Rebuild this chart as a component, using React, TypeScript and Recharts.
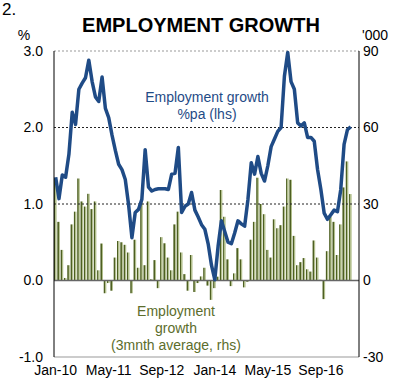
import { ComposedChart, Bar, Line, XAxis, YAxis, ReferenceLine } from 'recharts';

const MONTH_NAMES = ['Jan', 'Feb', 'Mar', 'Apr', 'May', 'Jun', 'Jul', 'Aug', 'Sep', 'Oct', 'Nov', 'Dec'];

// Jan-10 .. Aug-17 (last two months have no data yet)
const months: string[] = [];
for (let y = 10; y <= 17; y++) {
    for (const m of MONTH_NAMES) {
        if (months.length < 92) months.push(`${m}-${y}`);
    }
}

const xTicks = ['Jan-10', 'May-11', 'Sep-12', 'Jan-14', 'May-15', 'Sep-16'];
const leftTicks = [-1, 0, 1, 2, 3];
const rightTicks = [-30, 0, 30, 60, 90];

// employment growth, % per annum (lhs)
const pctGrowth = [
    1.35, 1.07, 1.38, 1.35, 1.65, 2.2, 2.04, 2.5, 2.58, 2.65, 2.88, 2.6, 2.4, 2.34, 2.66, 2.25, 2.13, 1.9, 1.7, 1.52, 1.45,
    1.32, 0.99, 0.56, 0.89, 0.93, 1.06, 1.71, 1.22,
    1.17, 1.19, 1.2, 1.2, 1.2, 1.19, 1.39, 1.4,
    1.74, 0.89, 0.97, 1.0, 1.15, 0.92, 0.83, 0.73, 0.67, 0.48, 0.2, 0.01, 0.45,
    0.78, 0.64, 0.5, 0.48, 0.62, 0.78, 0.74, 0.71, 1.06,
    1.54, 1.39, 1.62, 1.4, 1.3, 1.5, 1.75, 1.85, 1.95, 2.0,
    2.67, 2.98, 2.6, 2.5, 2.06, 2.02, 2.06, 1.87, 1.87, 1.82,
    1.45, 1.19, 0.88, 0.8, 0.86, 0.92, 0.9, 1.19, 1.78, 1.97, 2.01,
];

// employment growth, 3 month average, '000 (rhs)
const jobsAvg = [
    40, 23, 12, 1, 6, 22, 27, 40, 31, 29, 34, 28, 31, 4, 14.5, -5, -1, -4, 9, 15.5,
    15, 14, 11, -5, 16, 5, 31, 6, 31, 0.5, 8, -3, 17, 14.6, 9, 4, 22, 27, 11, 2.5,
    -4, 10, -4.5, -1, 1.6, 5, -2, -7.6, -3, 1.5, 35.5, 25, 8.3, -2.2, 2.8, 12.7, 8.3, -2.7, -0.5, 16,
    23, 40.3, 30, 26, 12, 9, 24, 20.5, 21.7, 29, 40, 39.5, 17.5, 6, 7.2, 8.8, 4.4, 3.5, 15.7, 9,
    0.3, -7.3, 11.5, 25, 23, 10, 22, 36.5, 46.7, 33.9,
];

const data = months.map((month, i) => ({
    month,
    pct: i < pctGrowth.length ? pctGrowth[i] : null,
    jobs: i < jobsAvg.length ? jobsAvg[i] : null,
}));

const FONT = '"Liberation Sans", Arial, sans-serif';
const BLUE = '#1f4b86';
const GREEN = '#5c6d2c';

export default function App() {
    return (
        <div style={{ position: 'absolute', left: 0, top: 0, width: 398, height: 381, background: '#fff', fontFamily: FONT }}>
            <ComposedChart
                width={398}
                height={381}
                data={data}
                margin={{ top: 51, right: 0, bottom: 0, left: 0 }}
                barCategoryGap={0}
            >
                <defs>
                    <linearGradient id="barFill" x1="0" y1="0" x2="1" y2="0">
                        <stop offset="0%" stopColor="#4e6022" />
                        <stop offset="45%" stopColor="#4e6022" />
                        <stop offset="55%" stopColor="#b2bf8d" />
                        <stop offset="100%" stopColor="#b2bf8d" />
                    </linearGradient>
                </defs>
                <XAxis
                    dataKey="month"
                    ticks={xTicks}
                    interval={0}
                    tickLine={false}
                    height={24}
                    axisLine={{ stroke: '#999' }}
                    tick={{ fill: '#000', fontSize: 14, fontFamily: FONT }}
                />
                <YAxis
                    yAxisId="left"
                    domain={[-1, 3]}
                    ticks={leftTicks}
                    width={54}
                    tickLine={false}
                    tickMargin={5}
                    axisLine={{ stroke: '#000' }}
                    tick={{ fill: '#000', fontSize: 14, fontFamily: FONT }}
                    tickFormatter={(v: number) => v.toFixed(1)}
                />
                <YAxis
                    yAxisId="right"
                    orientation="right"
                    domain={[-30, 90]}
                    ticks={rightTicks}
                    width={39}
                    tickLine={false}
                    tickSize={4}
                    tickMargin={0}
                    axisLine={{ stroke: '#000' }}
                    tick={{ fill: '#000', fontSize: 14, fontFamily: FONT, textAnchor: 'start' }}
                />
                <ReferenceLine yAxisId="left" y={3} stroke="#999" strokeDasharray="2 2" />
                <ReferenceLine yAxisId="left" y={2} stroke="#222" strokeDasharray="2 2" />
                <ReferenceLine yAxisId="left" y={1} stroke="#222" strokeDasharray="2 2" />
                <Bar yAxisId="right" dataKey="jobs" barSize={2.6} fill="url(#barFill)" isAnimationActive={false} />
                <ReferenceLine yAxisId="left" y={0} stroke="#666" strokeWidth={1.5} />
                <Line
                    yAxisId="left"
                    type="linear"
                    dataKey="pct"
                    stroke={BLUE}
                    strokeWidth={3.5}
                    strokeLinejoin="round"
                    dot={false}
                    activeDot={false}
                    isAnimationActive={false}
                />
            </ComposedChart>
            <svg
                width={398}
                height={381}
                style={{ position: 'absolute', left: 0, top: 0, pointerEvents: 'none' }}
                fontFamily={FONT}
            >
                <text x={2} y={9} fontSize={17} dominantBaseline="central">2.</text>
                <text x={201} y={25} fontSize={20} fontWeight="bold" textAnchor="middle" dominantBaseline="central">
                    EMPLOYMENT GROWTH
                </text>
                <text x={24} y={35} fontSize={14} textAnchor="middle" dominantBaseline="central">%</text>
                <text x={375} y={35} fontSize={14} textAnchor="middle" dominantBaseline="central">'000</text>
                <text x={207} y={97} fontSize={14} fill={BLUE} textAnchor="middle" dominantBaseline="central">
                    Employment growth
                </text>
                <text x={207} y={114} fontSize={14} fill={BLUE} textAnchor="middle" dominantBaseline="central">
                    %pa (lhs)
                </text>
                <text x={176} y={311} fontSize={14} fill={GREEN} textAnchor="middle" dominantBaseline="central">
                    Employment
                </text>
                <text x={176} y={328} fontSize={14} fill={GREEN} textAnchor="middle" dominantBaseline="central">
                    growth
                </text>
                <text x={176} y={345} fontSize={14} fill={GREEN} textAnchor="middle" dominantBaseline="central">
                    (3mnth average, rhs)
                </text>
            </svg>
        </div>
    );
}
